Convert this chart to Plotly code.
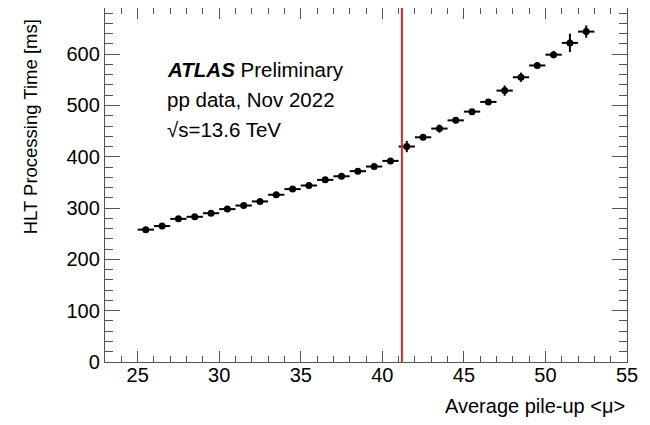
import plotly.graph_objects as go

# Data
mu = [25.5, 26.5, 27.5, 28.5, 29.5, 30.5, 31.5, 32.5, 33.5, 34.5, 35.5, 36.5, 37.5, 38.5,
      39.5, 40.5, 41.5, 42.5, 43.5, 44.5, 45.5, 46.5, 47.5, 48.5, 49.5, 50.5, 51.5, 52.5]
time_ms = [258, 265, 279, 283, 290, 298, 305, 313, 326, 337, 344, 355, 362, 372,
           381, 392, 420, 438, 455, 471, 488, 507, 529, 555, 578, 599, 622, 644]
time_err = [3, 3, 3, 3, 3, 3, 3, 3, 3, 3, 3, 3, 3, 3,
            3, 3, 11, 4, 8, 4, 5, 5, 10, 9, 6, 7, 18, 12]
mu_half_width = [0.5] * len(mu)
mu_line = 41.2
x_ticks = [25, 30, 35, 40, 45, 50, 55]
y_ticks = [0, 100, 200, 300, 400, 500, 600]

FONT = "Liberation Sans, Arial, Helvetica, sans-serif"

fig = go.Figure()
fig.add_trace(go.Scatter(
    x=mu, y=time_ms, mode="markers",
    marker=dict(symbol="circle", size=7, color="black"),
    error_x=dict(type="data", array=mu_half_width, width=0, thickness=2, color="black"),
    error_y=dict(type="data", array=time_err, width=0, thickness=2, color="black"),
    showlegend=False,
))

fig.add_shape(type="line", xref="x", yref="y", x0=mu_line, x1=mu_line, y0=0, y1=690,
              line=dict(color="#d42a2a", width=2))

axis_common = dict(
    showline=True, linecolor="#555555", linewidth=1.3, mirror="ticks",
    ticks="inside", tickcolor="#555555", tickwidth=1.3,
    showgrid=False, zeroline=False,
    tickfont=dict(family=FONT, size=20, color="black"),
)

fig.update_xaxes(range=[23, 55], tickvals=x_ticks, ticklen=11, ticklabelstandoff=-5,
                 minor=dict(ticks="inside", dtick=1, ticklen=6, tickcolor="#555555", showgrid=False),
                 **axis_common)
fig.update_yaxes(range=[0, 690], tickvals=y_ticks, ticklen=15,
                 minor=dict(ticks="inside", dtick=20, ticklen=8, tickcolor="#555555", showgrid=False),
                 **axis_common)

ann_font = dict(family=FONT, size=20.5, color="black")
fig.add_annotation(text="<b><i>ATLAS</i></b> Preliminary", xref="paper", yref="paper",
                   x=0.115, y=0.827, xanchor="left", yanchor="middle", showarrow=False, font=ann_font)
fig.add_annotation(text="pp data, Nov 2022", xref="paper", yref="paper",
                   x=0.115, y=0.742, xanchor="left", yanchor="middle", showarrow=False, font=ann_font)
fig.add_annotation(text="√s=13.6 TeV", xref="paper", yref="paper",
                   x=0.115, y=0.657, xanchor="left", yanchor="middle", showarrow=False, font=ann_font)

fig.add_annotation(text="Average pile-up &lt;μ&gt;", xref="paper", yref="paper",
                   x=1.0, y=-0.124, xanchor="right", yanchor="middle", showarrow=False,
                   font=dict(family=FONT, size=20, color="black"))
fig.add_annotation(text="HLT Processing Time [ms]", xref="paper", yref="paper",
                   x=-0.1437, y=0.975, xanchor="center", yanchor="top", textangle=-90,
                   showarrow=False, font=dict(family=FONT, size=18.5, color="black"))

# page body has an 8px default margin; size the figure so it fits the 650x425 window
fig.update_layout(
    width=642, height=417,
    margin=dict(l=97, r=23, t=0, b=63),
    plot_bgcolor="white", paper_bgcolor="white",
    font=dict(family=FONT),
)

fig.write_html("out.html")
